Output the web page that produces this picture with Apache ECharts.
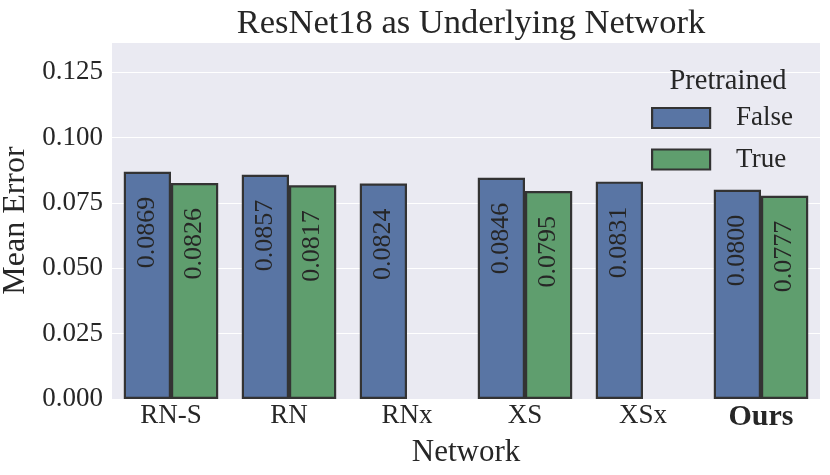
<!DOCTYPE html>
<html>
<head>
<meta charset="utf-8">
<script src="https://cdn.jsdelivr.net/npm/echarts@6/dist/echarts.min.js"></script>
<style>
  html, body { margin: 0; padding: 0; background: #fff; }
  #chart { width: 830px; height: 475px; }
</style>
</head>
<body>
<div id="chart"></div>
<script>
const categories = ['RN-S', 'RN', 'RNx', 'XS', 'XSx', 'Ours'];
const falseValues = [0.0869, 0.0857, 0.0824, 0.0846, 0.0831, 0.0800];
const trueValues = [0.0826, 0.0817, null, 0.0795, null, 0.0777];
const seriesNames = ['False', 'True'];

const FONT = 'Liberation Serif';
const TXT = '#262626';

const chart = echarts.init(document.getElementById('chart'), null, { renderer: 'canvas' });

const barLabel = {
  show: true,
  position: 'insideTop',
  rotate: 90,
  align: 'right',
  verticalAlign: 'middle',
  distance: 25,
  fontFamily: FONT,
  fontSize: 26,
  color: TXT,
  formatter: p => p.value == null ? '' : p.value.toFixed(4)
};

const option = {
  backgroundColor: '#ffffff',
  animation: false,
  textStyle: { fontFamily: FONT },
  title: [
    {
      text: 'ResNet18 as Underlying Network',
      left: 466, top: 1, textAlign: 'center',
      textStyle: { fontFamily: FONT, fontSize: 34.5, fontWeight: 'normal', color: TXT }
    },
    {
      text: 'Pretrained',
      left: 723, top: 62, textAlign: 'center',
      textStyle: { fontFamily: FONT, fontSize: 28.5, fontWeight: 'normal', color: TXT }
    }
  ],
  legend: {
    orient: 'vertical',
    left: 646, top: 99.5,
    icon: 'rect',
    itemWidth: 58, itemHeight: 20,
    itemGap: 14.5,
    itemStyle: { borderColor: '#333333', borderWidth: 2.2 },
    textStyle: { fontFamily: FONT, fontSize: 27, color: TXT, padding: [0, 0, 0, 21] },
    data: seriesNames
  },
  grid: {
    left: 112, right: 10, top: 42, bottom: 76,
    outerBoundsMode: 'none',
    containLabel: false,
    show: true, backgroundColor: '#EAEAF2', borderWidth: 0
  },
  xAxis: {
    type: 'category',
    data: categories,
    name: 'Network',
    nameLocation: 'middle',
    nameGap: 37,
    nameTextStyle: { fontFamily: FONT, fontSize: 31, color: TXT },
    axisLine: { show: false },
    axisTick: { show: false },
    axisLabel: {
      interval: 0,
      margin: 3,
      fontFamily: FONT, fontSize: 27, color: TXT,
      formatter: v => v === 'Ours' ? '{b|Ours}' : v,
      rich: { b: { fontFamily: FONT, fontSize: 30, fontWeight: 'bold', color: TXT } }
    },
    splitLine: { show: false }
  },
  yAxis: {
    type: 'value',
    min: 0, max: 0.1365, interval: 0.025,
    name: 'Mean Error',
    nameLocation: 'middle',
    nameGap: 67,
    nameTextStyle: { fontFamily: FONT, fontSize: 32, color: TXT },
    axisLine: { show: false },
    axisTick: { show: false },
    axisLabel: {
      margin: 9,
      fontFamily: FONT, fontSize: 27, color: TXT,
      showMaxLabel: false,
      formatter: v => v.toFixed(3)
    },
    splitLine: { show: true, lineStyle: { color: '#ffffff', width: 1.2 } }
  },
  series: [
    {
      name: seriesNames[0], type: 'bar', data: falseValues,
      barGap: '0%', barCategoryGap: '20%',
      itemStyle: { color: '#5975A4', borderColor: '#333333', borderWidth: 2.2 },
      label: barLabel
    },
    {
      name: seriesNames[1], type: 'bar', data: trueValues,
      barGap: '0%', barCategoryGap: '20%',
      itemStyle: { color: '#5F9E6E', borderColor: '#333333', borderWidth: 2.2 },
      label: barLabel
    }
  ]
};

chart.setOption(option);
</script>
</body>
</html>
